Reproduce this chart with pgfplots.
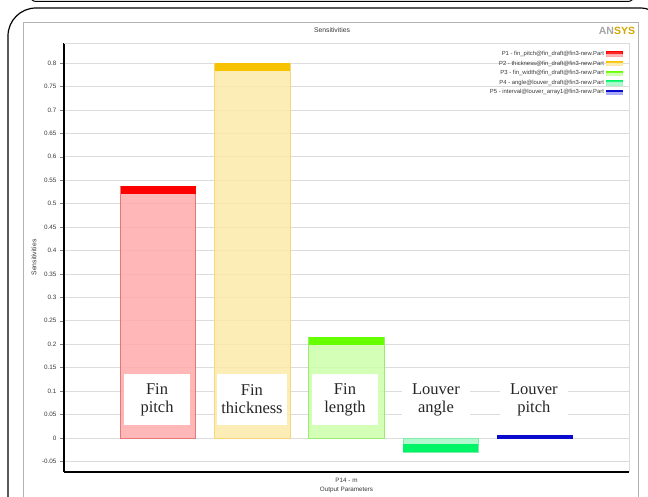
\documentclass[border=0pt]{standalone}
\usepackage{fontspec}
\setmainfont{Liberation Serif}
\newfontfamily\uifont{Liberation Sans}
\usepackage{pgfplots}
\pgfplotsset{compat=1.18}

\definecolor{pitchDark}{HTML}{FF0000}
\definecolor{pitchLight}{HTML}{FFAAAA}
\definecolor{pitchEdge}{HTML}{E87878}
\definecolor{thickDark}{HTML}{F7C300}
\definecolor{thickLight}{HTML}{FCE9A8}
\definecolor{thickEdge}{HTML}{F5D77A}
\definecolor{lenDark}{HTML}{66FF00}
\definecolor{lenLight}{HTML}{CCFFAA}
\definecolor{lenEdge}{HTML}{9CEB70}
\definecolor{angDark}{HTML}{00F566}
\definecolor{angLight}{HTML}{A3F7C6}
\definecolor{angEdge}{HTML}{80EBA8}
\definecolor{lpDark}{HTML}{0A0ACD}
\definecolor{lpLight}{HTML}{AAAAF5}
\definecolor{gridgray}{HTML}{DCDCDC}
\definecolor{labelgray}{HTML}{383838}

\newcommand{\tickui}{\uifont\fontsize{6.3}{7}\selectfont}
\newcommand{\legui}{\uifont\fontsize{5.9}{6.8}\selectfont}
\newcommand{\labui}{\uifont\fontsize{6.8}{8}\selectfont}

\pgfplotsset{
  sensbar/.style n args={3}{ybar, bar width=0.8, bar shift=0pt,
    fill=#2, fill opacity=0.85, draw=#3, line width=0.8pt,
    legend image code/.code={
      \fill[#1] (0pt,0.3pt) rectangle (16pt,2.4pt);
      \fill[#2] (0pt,-2pt) rectangle (16pt,0.3pt);}},
  strip/.style={forget plot, sharp plot, no markers, line width=#1},
}
\tikzset{capbox/.style={fill=white, inner sep=0pt, minimum height=51pt, align=center,
  font=\fontsize{16.5}{18}\selectfont, text=black!85}}

\begin{document}
\begin{tikzpicture}
\path[use as bounding box] (0pt,0pt) rectangle (648pt,497pt);
\begin{scope}[x=1pt,y=1pt]
  \clip (0,0) rectangle (648,497);
  % frame of the panel above
  \draw[line width=1pt, rounded corners=6pt] (30,540) -- (30,495.5) -- (634,495.5) -- (634,540);
  % outer panel frame
  \draw[line width=1.2pt, rounded corners=28pt] (8,-40) -- (8,489) -- (668,489) -- (668,-40);
  % chart frame
  \draw[line width=0.8pt, color=black!30] (23,-5) -- (23,475) -- (638,475) -- (638,-5);
\end{scope}

\node[font=\labui, text=labelgray] at (332pt,467pt) {Sensitivities};
\node[font=\uifont\bfseries\fontsize{10.5}{11}\selectfont, inner sep=0pt] at (617pt,466pt)
  {\textcolor{black!35}{AN}\textcolor{thickDark!85!black}{SYS}};

\begin{axis}[
  at={(64pt,25pt)}, anchor=south west,
  scale only axis, width=565pt, height=429pt,
  xmin=0, xmax=6, ymin=-0.0725, ymax=0.8427,
  axis x line*=bottom, axis y line*=left,
  x axis line style={line width=1.6pt, black},
  y axis line style={line width=1.6pt, black},
  ytick={-0.05,0,0.05,0.1,0.15,0.2,0.25,0.3,0.35,0.4,0.45,0.5,0.55,0.6,0.65,0.7,0.75,0.8},
  yticklabels={-0.05,0,0.05,0.1,0.15,0.2,0.25,0.3,0.35,0.4,0.45,0.5,0.55,0.6,0.65,0.7,0.75,0.8},
  ytick style={black!50, line width=0.5pt},
  major tick length=4pt, tick align=outside,
  yticklabel style={font=\tickui, text=labelgray},
  xtick={3}, xticklabels={P14 - m},
  xtick style={draw=none},
  xticklabel style={font=\tickui, text=labelgray, yshift=1pt},
  xlabel={Output Parameters},
  xlabel style={font=\tickui, text=labelgray, yshift=3pt},
  ylabel={Sensitivities},
  ylabel style={font=\labui, text=labelgray, at={(axis description cs:-0.053,0.5)}, anchor=center},
  ymajorgrids, grid style={gridgray, line width=0.7pt},
  legend style={at={(0.991,0.988)}, anchor=north east, draw=none, fill=none,
    font=\legui, text=labelgray, row sep=-0.2pt, inner sep=1pt},
  legend cell align=right, legend plot pos=right,
  clip=false,
]
% sensitivity bars
\addplot[sensbar={pitchDark}{pitchLight}{pitchEdge}] coordinates {(1,0.537)};
\addlegendentry{P1 - fin\_pitch@fin\_draft@fin3-new.Part}
\addplot[sensbar={thickDark}{thickLight}{thickEdge}] coordinates {(2,0.800)};
\addlegendentry{P2 - thickness@fin\_draft@fin3-new.Part}
\addplot[sensbar={lenDark}{lenLight}{lenEdge}] coordinates {(3,0.2155)};
\addlegendentry{P3 - fin\_width@fin\_draft@fin3-new.Part}
\addplot[sensbar={angDark}{angLight}{angEdge}] coordinates {(4,-0.030)};
\addlegendentry{P4 - angle@louver\_draft@fin3-new.Part}
\addplot[sensbar={lpDark}{lpLight}{lpDark}, fill=lpDark, fill opacity=1, line width=0.4pt] coordinates {(5,0.005)};
\addlegendentry{P5 - interval@louver\_array1@fin3-new.Part}

% darker end caps of the bars
\addplot[strip=7.6pt, pitchDark] coordinates {(0.6,0.5289) (1.4,0.5289)};
\addplot[strip=7.6pt, thickDark] coordinates {(1.6,0.7919) (2.4,0.7919)};
\addplot[strip=7.6pt, lenDark] coordinates {(2.6,0.2074) (3.4,0.2074)};
\addplot[strip=7.6pt, angDark] coordinates {(3.6,-0.0215) (4.4,-0.0215)};

% right and top border of the plot area
\draw[gridgray, line width=0.8pt] (rel axis cs:0,1) -- (rel axis cs:1,1) -- (rel axis cs:1,0);

% category captions
\node[capbox, minimum width=66pt] at (axis cs:0.988,0.082) {Fin\\pitch};
\node[capbox, minimum width=70pt] at (axis cs:1.996,0.082) {Fin\\thickness};
\node[capbox, minimum width=66pt] at (axis cs:2.984,0.082) {Fin\\length};
\node[capbox, minimum width=68pt, minimum height=46pt] at (axis cs:3.95,0.082) {Louver\\angle};
\node[capbox, minimum width=68pt, minimum height=46pt] at (axis cs:4.99,0.082) {Louver\\pitch};
\end{axis}
\end{tikzpicture}
\end{document}
